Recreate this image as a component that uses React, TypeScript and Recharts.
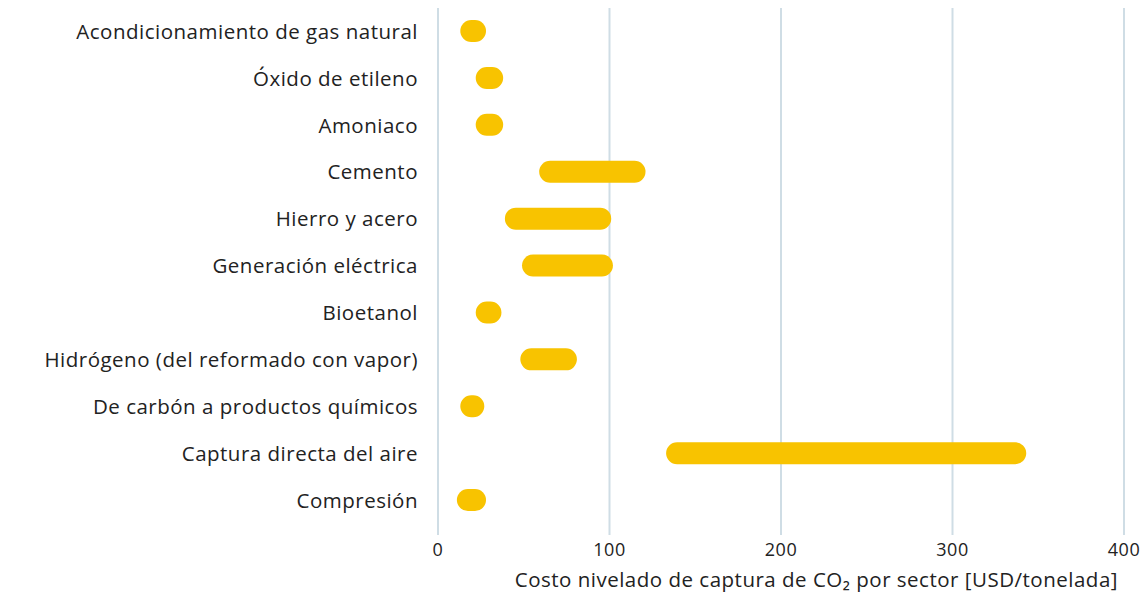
import React from 'react';
import { BarChart, Bar, XAxis, YAxis, CartesianGrid } from 'recharts';

const sectors = [
  'Acondicionamiento de gas natural',
  'Óxido de etileno',
  'Amoniaco',
  'Cemento',
  'Hierro y acero',
  'Generación eléctrica',
  'Bioetanol',
  'Hidrógeno (del reformado con vapor)',
  'De carbón a productos químicos',
  'Captura directa del aire',
  'Compresión',
];
const costLow = [13, 22, 22, 59, 39, 49, 22, 48, 13, 133, 11];
const costHigh = [28, 38, 38, 121, 101, 102, 37, 81, 27, 343, 28];
const xTicks = [0, 100, 200, 300, 400];

const data = sectors.map((name, i) => ({ name, range: [costLow[i], costHigh[i]] }));

const FONT = '"Open Sans", Lato, sans-serif';

export default function App() {
  return (
    <div style={{ position: 'absolute', left: 0, top: 0, background: '#fff' }}>
      <BarChart
        width={1145}
        height={593}
        data={data}
        layout="vertical"
        margin={{ top: 8, right: 21, bottom: 0, left: 0 }}
        barCategoryGap={0}
      >
        <CartesianGrid horizontal={false} stroke="#cfdde5" strokeWidth={2} />
        <XAxis
          type="number"
          domain={[0, 400]}
          ticks={xTicks}
          axisLine={false}
          tickLine={false}
          height={58}
          tickMargin={2}
          tick={{ fill: '#222', fontSize: 18, fontFamily: FONT, letterSpacing: 0.5 }}
          label={{
            value: 'Costo nivelado de captura de CO₂ por sector [USD/tonelada]',
            position: 'insideBottomRight',
            offset: 6,
            fill: '#222',
            fontSize: 20.5,
            fontFamily: FONT,
            letterSpacing: 0.5,
          }}
        />
        <YAxis
          type="category"
          dataKey="name"
          width={438}
          axisLine={false}
          tickLine={false}
          tickMargin={14}
          padding={{ top: 0, bottom: 11 }}
          interval={0}
          tick={{ fill: '#222', fontSize: 20.5, fontFamily: FONT, letterSpacing: 0.5 }}
        />
        <Bar dataKey="range" fill="#f8c300" barSize={22} radius={11} isAnimationActive={false} />
      </BarChart>
    </div>
  );
}
